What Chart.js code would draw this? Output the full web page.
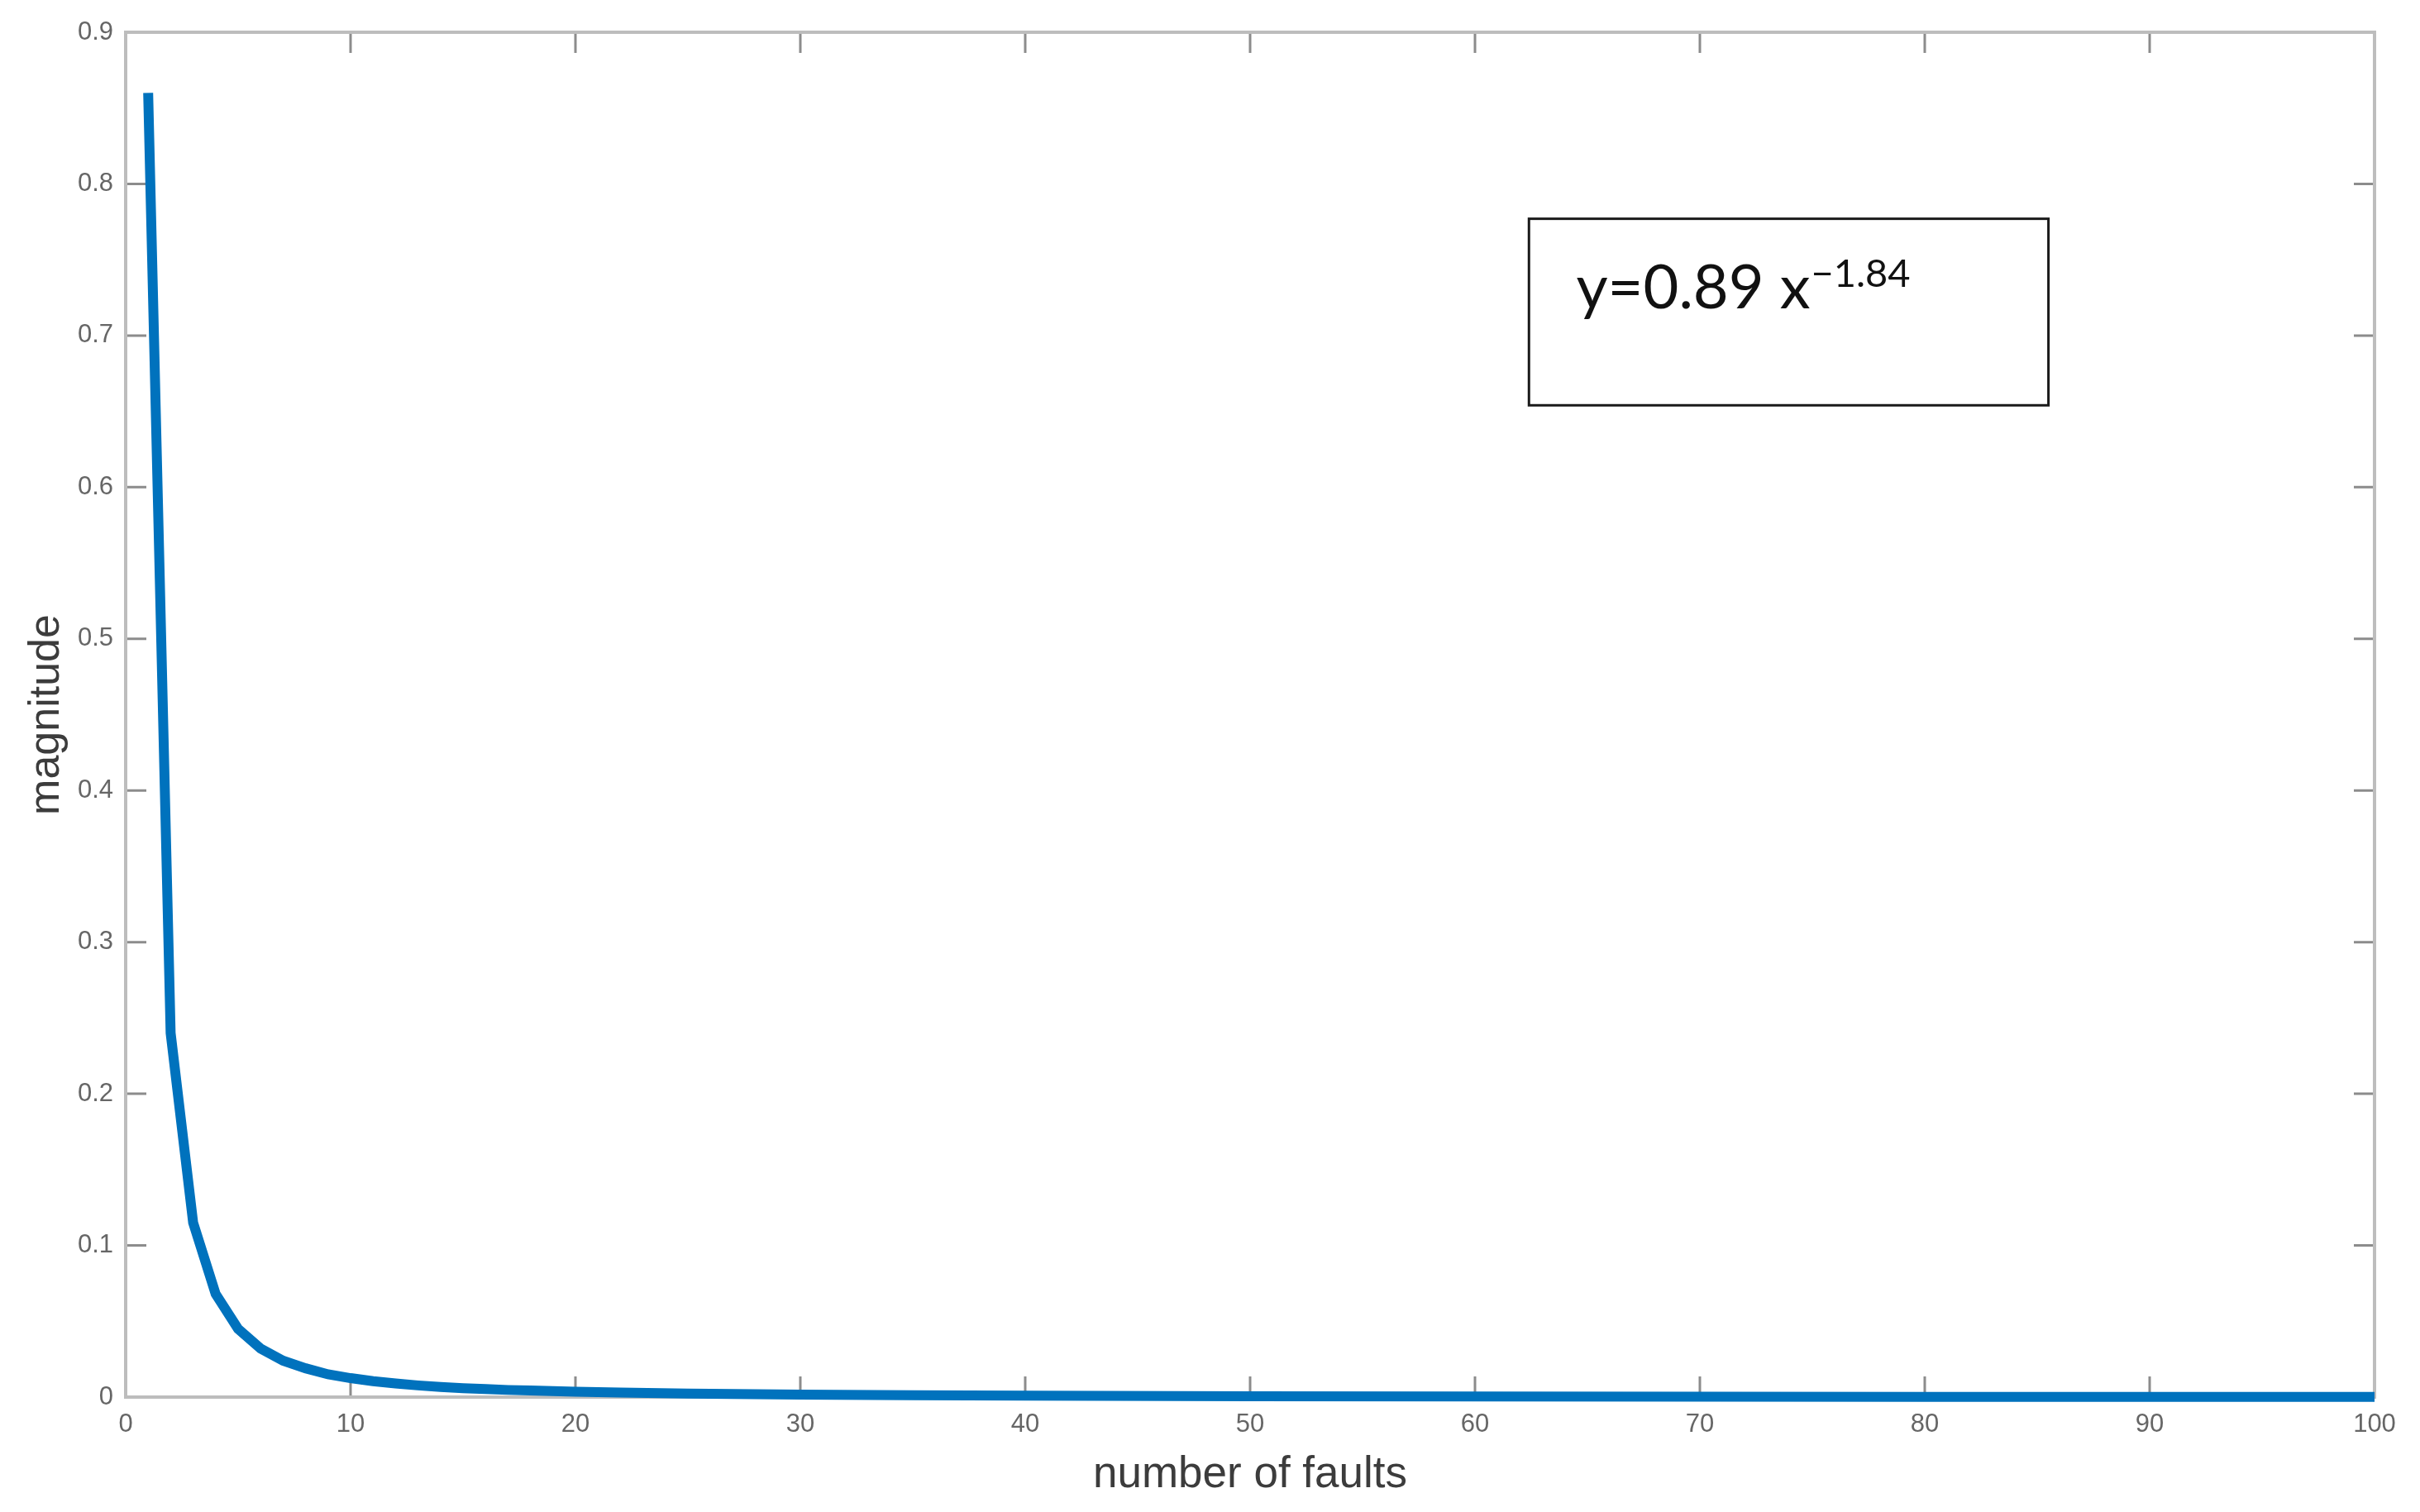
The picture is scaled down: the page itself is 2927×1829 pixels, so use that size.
<!DOCTYPE html>
<html>
<head>
<meta charset="utf-8">
<script src="https://cdn.jsdelivr.net/npm/chart.js"></script>
<style>
    html, body { margin: 0; padding: 0; background: #ffffff; }
    canvas { display: block; }
</style>
</head>
<body>
<canvas id="faultChart" width="2927" height="1829"></canvas>
<script>
// values
const faultCounts = [1, 2, 3, 4, 5, 6, 7, 8, 9, 10, 11, 12, 13, 14, 15, 16, 17, 18, 19, 20,
    22, 25, 30, 35, 40, 50, 60, 70, 80, 90, 100];
const magnitudes = [0.86, 0.24, 0.115, 0.068, 0.045, 0.032, 0.024, 0.019, 0.015, 0.0125,
    0.0105, 0.009, 0.0077, 0.0067, 0.0059, 0.0053, 0.0047, 0.0043, 0.0039, 0.0035,
    0.003, 0.0023, 0.0016, 0.0012, 0.0009, 0.0006, 0.0004, 0.0003, 0.0002, 0.0002, 0.0002];
const xTicks = [0, 10, 20, 30, 40, 50, 60, 70, 80, 90, 100];
const yTicks = [0, 0.1, 0.2, 0.3, 0.4, 0.5, 0.6, 0.7, 0.8, 0.9];
const fitText = 'y=0.89 x';
const fitExponent = '\u22121.84';

const points = faultCounts.map(function (x, i) { return { x: x, y: magnitudes[i] }; });

// MATLAB style box with inward ticks + fit annotation
const frameAndNote = {
    id: 'frameAndNote',
    beforeDatasetsDraw: function (chart) {
        const ctx = chart.ctx;
        const a = chart.chartArea;
        const xs = chart.scales.x;
        const ys = chart.scales.y;
        const len = 25;
        ctx.save();
        ctx.strokeStyle = '#8c8c8c';
        ctx.lineWidth = 3;
        ctx.beginPath();
        xTicks.slice(1, -1).forEach(function (v) {
            const px = xs.getPixelForValue(v);
            ctx.moveTo(px, a.bottom); ctx.lineTo(px, a.bottom - len);
            ctx.moveTo(px, a.top); ctx.lineTo(px, a.top + len);
        });
        yTicks.slice(1, -1).forEach(function (v) {
            const py = ys.getPixelForValue(v);
            ctx.moveTo(a.left, py); ctx.lineTo(a.left + len, py);
            ctx.moveTo(a.right, py); ctx.lineTo(a.right - len, py);
        });
        ctx.stroke();
        ctx.strokeStyle = '#bdbdbd';
        ctx.lineWidth = 4;
        ctx.strokeRect(a.left, a.top, a.right - a.left, a.bottom - a.top);

        // equation box
        const bx1 = xs.getPixelForValue(62.4), bx2 = xs.getPixelForValue(85.5);
        const by1 = ys.getPixelForValue(0.777), by2 = ys.getPixelForValue(0.654);
        ctx.strokeStyle = '#1a1a1a';
        ctx.lineWidth = 3;
        ctx.strokeRect(bx1, by1, bx2 - bx1, by2 - by1);
        const tx = xs.getPixelForValue(64.5);
        const ty = ys.getPixelForValue(0.718);
        ctx.fillStyle = '#111111';
        ctx.textBaseline = 'alphabetic';
        ctx.textAlign = 'left';
        ctx.font = "74px 'Lato', sans-serif";
        ctx.fillText(fitText, tx, ty);
        const w = ctx.measureText(fitText).width;
        ctx.font = "47px 'Lato', sans-serif";
        ctx.fillText(fitExponent, tx + w + 1, ty - 26);
        ctx.restore();
    }
};

const faultChart = new Chart(document.getElementById('faultChart'), {
    type: 'line',
    data: {
        datasets: [{
            data: points,
            borderColor: '#0072BD',
            backgroundColor: 'transparent',
            borderWidth: 12,
            pointRadius: 0,
            tension: 0,
            clip: false
        }]
    },
    options: {
        responsive: false,
        animation: false,
        devicePixelRatio: 1,
        layout: { padding: { top: 39, right: 55, left: 0, bottom: 0 } },
        plugins: {
            legend: { display: false },
            tooltip: { enabled: false }
        },
        scales: {
            x: {
                type: 'linear',
                min: 0,
                max: 100,
                afterBuildTicks: function (s) { s.ticks = xTicks.map(function (v) { return { value: v }; }); },
                afterFit: function (s) { s.height = 139; },
                grid: { display: false, drawTicks: false, tickLength: 0 },
                border: { display: false },
                ticks: {
                    color: '#666666',
                    padding: 15,
                    maxRotation: 0,
                    font: { family: "'Liberation Sans', Arial, sans-serif", size: 31 }
                },
                title: {
                    display: true,
                    text: 'number of faults',
                    color: '#3c3c3c',
                    padding: { top: 0, bottom: 13 },
                    font: { family: "'Liberation Sans', Arial, sans-serif", size: 53 }
                }
            },
            y: {
                min: 0,
                max: 0.9,
                afterBuildTicks: function (s) { s.ticks = yTicks.map(function (v) { return { value: v }; }); },
                afterFit: function (s) { s.width = 152; },
                grid: { display: false, drawTicks: false, tickLength: 0 },
                border: { display: false },
                ticks: {
                    color: '#666666',
                    padding: 15,
                    callback: function (v) { return v === 0 ? '0' : v.toFixed(1); },
                    font: { family: "'Liberation Sans', Arial, sans-serif", size: 31 }
                },
                title: {
                    display: true,
                    text: 'magnitude',
                    color: '#3c3c3c',
                    padding: { top: 25, bottom: 0 },
                    font: { family: "'Liberation Sans', Arial, sans-serif", size: 52 }
                }
            }
        }
    },
    plugins: [frameAndNote]
});
</script>
</body>
</html>
